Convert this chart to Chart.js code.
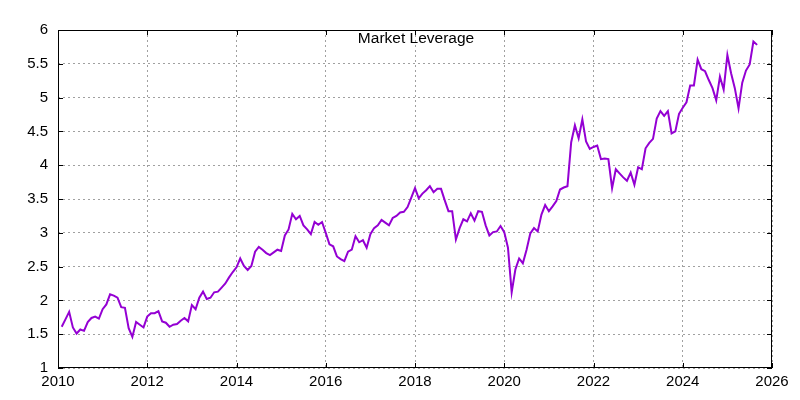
<!DOCTYPE html>
<html>
<head>
<meta charset="utf-8">
<script src="https://cdn.jsdelivr.net/npm/chart.js@4.4.1/dist/chart.umd.min.js"></script>
<style>
html,body{margin:0;padding:0;background:#ffffff;}
#wrap{width:800px;height:400px;}
</style>
</head>
<body>
<div id="wrap"><canvas id="c" width="800" height="400"></canvas></div>
<script>
// ---- data ----
const chartTitle = 'Market Leverage';
const startYear = 2010;
const startMonth = 2; // first observation: Feb 2010, monthly thereafter
const leverage = [
  1.61,1.72,1.83,1.60,1.51,1.57,1.55,1.68,1.74,1.76,1.73,
  1.87,1.94,2.09,2.07,2.04,1.90,1.89,1.59,1.46,1.68,1.64,1.60,
  1.76,1.81,1.81,1.84,1.69,1.67,1.61,1.64,1.65,1.70,1.74,1.69,
  1.93,1.87,2.04,2.13,2.02,2.04,2.12,2.13,2.19,2.25,2.34,2.42,
  2.49,2.62,2.51,2.45,2.51,2.72,2.79,2.75,2.70,2.67,2.71,2.75,
  2.73,2.96,3.05,3.28,3.20,3.25,3.11,3.05,2.98,3.16,3.12,3.16,
  3.00,2.83,2.80,2.65,2.61,2.58,2.72,2.75,2.95,2.86,2.89,2.78,
  2.98,3.07,3.11,3.19,3.15,3.11,3.22,3.25,3.30,3.31,3.38,3.52,
  3.66,3.51,3.58,3.63,3.69,3.60,3.65,3.65,3.48,3.32,3.32,2.90,
  3.07,3.20,3.17,3.29,3.18,3.32,3.31,3.11,2.96,3.01,3.02,3.10,
  3.01,2.78,2.12,2.46,2.62,2.55,2.75,2.99,3.07,3.02,3.27,3.41,
  3.32,3.39,3.47,3.64,3.67,3.69,4.34,4.59,4.40,4.68,4.35,4.24,
  4.27,4.29,4.09,4.10,4.09,3.66,3.94,3.88,3.82,3.77,3.89,3.71,
  3.97,3.94,4.25,4.33,4.39,4.69,4.80,4.73,4.80,4.47,4.50,4.76,
  4.85,4.93,5.18,5.18,5.56,5.42,5.39,5.26,5.14,4.96,5.31,5.12,
  5.63,5.36,5.14,4.84,5.22,5.40,5.49,5.83,5.78
];
const xTickValues = [2010,2012,2014,2016,2018,2020,2022,2024,2026];
const yTickValues = [1,1.5,2,2.5,3,3.5,4,4.5,5,5.5,6];

// ---- build ----
const points = leverage.map((v, i) => ({ x: startYear + (startMonth - 1 + i) / 12, y: v }));
const FAMILY = "'Liberation Sans', Arial, sans-serif";
const FONT = { family: FAMILY, size: 15 };

const framePlugin = {
  id: 'frame',
  afterDraw(chart) {
    const { ctx, chartArea: a, scales } = chart;
    ctx.save();
    ctx.strokeStyle = '#000';
    ctx.lineWidth = 1;
    ctx.setLineDash([]);
    ctx.strokeRect(Math.round(a.left) + 0.5, Math.round(a.top) + 0.5,
                   Math.round(a.right - a.left) - 1, Math.round(a.bottom - a.top) - 1);
    const tl = 5;
    ctx.beginPath();
    xTickValues.forEach(v => {
      const px = Math.round(scales.x.getPixelForValue(v)) + 0.5;
      ctx.moveTo(px, a.bottom); ctx.lineTo(px, a.bottom - tl);
      ctx.moveTo(px, a.top); ctx.lineTo(px, a.top + tl);
    });
    yTickValues.forEach(v => {
      const py = Math.round(scales.y.getPixelForValue(v)) + 0.5;
      ctx.moveTo(a.left, py); ctx.lineTo(a.left + tl, py);
      ctx.moveTo(a.right, py); ctx.lineTo(a.right - tl, py);
    });
    ctx.stroke();
    // title, drawn inside the plot like the reference
    ctx.fillStyle = '#000';
    ctx.font = '15.5px ' + FAMILY;
    ctx.textAlign = 'center';
    ctx.textBaseline = 'alphabetic';
    ctx.fillText(chartTitle, (a.left + a.right) / 2 + 1, a.top + 13);
    ctx.restore();
  }
};

new Chart(document.getElementById('c'), {
  type: 'line',
  data: {
    datasets: [{
      label: chartTitle,
      data: points,
      borderColor: '#9400d3',
      borderWidth: 2,
      pointRadius: 0,
      tension: 0,
      fill: false
    }]
  },
  options: {
    responsive: false,
    devicePixelRatio: 1,
    animation: false,
    layout: { padding: { top: 30, right: 28, left: 0, bottom: 0 } },
    plugins: { legend: { display: false }, tooltip: { enabled: false }, title: { display: false } },
    scales: {
      x: {
        type: 'linear',
        min: 2010, max: 2026,
        afterBuildTicks: s => { s.ticks = xTickValues.map(v => ({ value: v })); },
        afterFit: s => { s.height = 32; },
        ticks: { color: '#000', font: FONT, padding: 5, maxRotation: 0, callback: v => String(v) },
        grid: { color: '#a0a0a0', lineWidth: 1, drawTicks: false },
        border: { display: false, dash: [2, 3] }
      },
      y: {
        type: 'linear',
        min: 1, max: 6,
        afterBuildTicks: s => { s.ticks = yTickValues.map(v => ({ value: v })); },
        afterFit: s => { s.width = 58; },
        ticks: { color: '#000', font: FONT, padding: 10, callback: v => String(v) },
        grid: { color: '#a0a0a0', lineWidth: 1, drawTicks: false },
        border: { display: false, dash: [2, 3] }
      }
    }
  },
  plugins: [framePlugin]
});
</script>
</body>
</html>
